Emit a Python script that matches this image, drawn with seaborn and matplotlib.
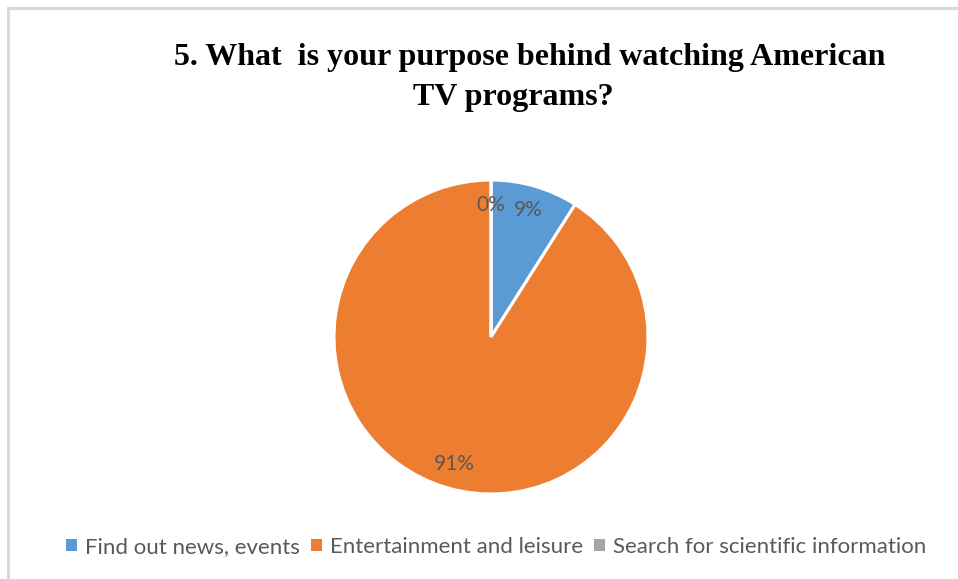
import matplotlib
matplotlib.use("Agg")
import matplotlib.pyplot as plt
import seaborn as sns
from matplotlib.patches import Rectangle, Patch

sns.set_theme(style="white")

categories = ["Find out news, events", "Entertainment and leisure",
              "Search for scientific information"]
values = [9, 91, 0]
colors = ["#5B9BD5", "#ED7D31", "#A5A5A5"]
title_lines = ["5. What  is your purpose behind watching American", "TV programs?"]

W, H = 958, 579
fig = plt.figure(figsize=(W / 100, H / 100), dpi=100)
fig.patch.set_facecolor("white")

# chart frame (top and left edges visible)
fig.add_artist(Rectangle((8 / W, -0.1), 1.2, (H - 8) / H + 0.1, transform=fig.transFigure,
                         fill=False, edgecolor="#D9D9D9", linewidth=2.2))

# pie axes: radius 1 inside +-1.25 limits
cx, cy, r = 491, H - 337, 157
half = r * 1.25
ax = fig.add_axes([(cx - half) / W, (cy - half) / H, 2 * half / W, 2 * half / H])

palette = sns.color_palette(colors)
wedges, texts, autotexts = ax.pie(
    values, colors=palette, startangle=90, counterclock=False,
    autopct=lambda p: f"{p:.0f}%", pctdistance=0.84,
    wedgeprops=dict(edgecolor="white", linewidth=2.2),
    textprops=dict(color="#595959", fontsize=15, family="Lato"),
)
ax.set_xlim(-1.25, 1.25)
ax.set_ylim(-1.25, 1.25)
ax.set_aspect("equal")
ax.axis("off")

# title, two centred lines
fig.text(530 / W, 1 - 57 / H, title_lines[0], ha="center", va="center",
         fontsize=23, fontweight="bold", family="Liberation Serif", color="black")
fig.text(513 / W, 1 - 97 / H, title_lines[1], ha="center", va="center",
         fontsize=23, fontweight="bold", family="Liberation Serif", color="black")

handles = [Patch(facecolor=c, edgecolor="none") for c in colors]
leg = fig.legend(handles, categories, loc="center", bbox_to_anchor=(496 / W, 1 - 547 / H),
                 ncol=3, frameon=False, handlelength=0.5, handleheight=0.5,
                 handletextpad=0.35, columnspacing=0.5,
                 prop=dict(family="Lato", size=16))
for t in leg.get_texts():
    t.set_color("#595959")

fig.savefig("out.png", dpi=100, facecolor="white")
